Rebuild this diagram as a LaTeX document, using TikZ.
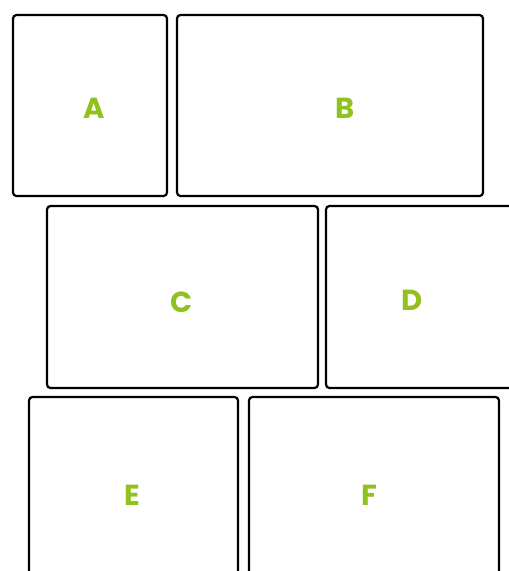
\documentclass[tikz,border=0pt]{standalone}
\usepackage{fontspec}
\setmainfont{Poppins}
\usepackage{xcolor}
\definecolor{leaf}{RGB}{145,193,30}

\begin{document}
\begin{tikzpicture}[x=1pt, y=-1pt,
    brick/.style={draw, line width=2.2pt, rounded corners=3.5pt, inner sep=0pt},
    tag/.style={font=\fontsize{29}{30}\selectfont\bfseries, text=leaf}
  ]
    \useasboundingbox (0,0) rectangle (509,571);
    \clip (0,0) rectangle (509,571);

    % top row
    \node[brick, minimum width=154pt, minimum height=181pt] (ba) at (90,105.5) {};
    \node[brick, minimum width=306pt, minimum height=181pt] (bb) at (330,105.5) {};
    \node[tag] (ta) at (94,108) {A};
    \node[tag] (tb) at (345,108) {B};

    % middle row
    \node[brick, minimum width=271pt, minimum height=182pt] (bc) at (182.5,297) {};
    \node[brick, minimum width=189pt, minimum height=182pt] (bd) at (420.5,297) {};
    \node[tag] (tc) at (182,302) {C};
    \node[tag] (td) at (412,300) {D};

    % bottom row
    \node[brick, minimum width=209pt, minimum height=183pt] (be) at (133.5,488.5) {};
    \node[brick, minimum width=250pt, minimum height=183pt] (bf) at (374,488.5) {};
    \node[tag] (te) at (132,495) {E};
    \node[tag] (tf) at (369,495) {F};
\end{tikzpicture}
\end{document}
